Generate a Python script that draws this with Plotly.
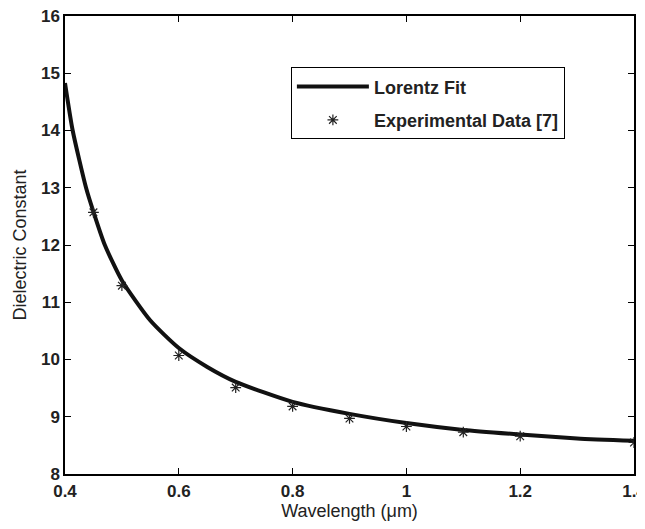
import plotly.graph_objects as go

# Lorentz fit curve
fit_wavelength = [0.4, 0.4135, 0.437, 0.45, 0.47, 0.5, 0.55, 0.6, 0.65, 0.7, 0.8, 0.9, 1.0, 1.1, 1.2, 1.3, 1.4]
fit_eps = [14.83, 14.0, 13.0, 12.58, 12.0, 11.38, 10.68, 10.2, 9.87, 9.61, 9.26, 9.05, 8.89, 8.77, 8.69, 8.62, 8.58]

# Experimental data [7]
exp_wavelength = [0.45, 0.5, 0.6, 0.7, 0.8, 0.9, 1.0, 1.1, 1.2, 1.4]
exp_eps = [12.57, 11.29, 10.07, 9.51, 9.18, 8.97, 8.83, 8.73, 8.66, 8.55]

x_ticks = [0.4, 0.6, 0.8, 1.0, 1.2, 1.4]
x_ticklabels = ["0.4", "0.6", "0.8", "1", "1.2", "1.4"]
y_ticks = [8, 9, 10, 11, 12, 13, 14, 15, 16]

FONT = "Liberation Sans, Arial, sans-serif"

fig = go.Figure()
fig.add_trace(go.Scatter(
    x=fit_wavelength, y=fit_eps, mode="lines", name="Lorentz Fit", legendgroup="a",
    line=dict(color="#111111", width=4, shape="spline", smoothing=0.6),
))
fig.add_trace(go.Scatter(
    x=exp_wavelength, y=exp_eps, mode="markers", name="Experimental Data [7]", legendgroup="b",
    marker=dict(symbol="asterisk-open", size=9, color="#222222",
                line=dict(color="#222222", width=1.2)),
))

axis_common = dict(
    showline=True, linecolor="black", linewidth=1.5, mirror="ticks",
    ticks="inside", ticklen=6, tickcolor="black", showgrid=False, zeroline=False,
    automargin=False, ticklabeloverflow="allow",
    tickfont=dict(family=FONT, size=17, color="#222222", weight="bold"),
)

fig.update_xaxes(range=[0.4, 1.4], tickvals=x_ticks, ticktext=x_ticklabels,
                 ticklabelstandoff=1,
                 title=dict(text="Wavelength (μm)", standoff=2,
                            font=dict(family=FONT, size=18, color="#222222")),
                 **axis_common)
fig.update_yaxes(range=[8, 16], tickvals=y_ticks,
                 title=dict(text="Dielectric Constant", standoff=10,
                            font=dict(family=FONT, size=18, color="#222222")),
                 **axis_common)

# The page body has an 8px default margin, so the figure is sized/offset to compensate.
fig.update_layout(
    width=637, height=521,
    margin=dict(l=57, r=11, t=8, b=55),
    paper_bgcolor="white", plot_bgcolor="white",
    showlegend=True,
    legend=dict(
        x=0.397, y=0.888, xanchor="left", yanchor="top",
        bordercolor="black", borderwidth=1, bgcolor="white",
        font=dict(family=FONT, size=18, color="#222222", weight="bold"),
        itemwidth=72, tracegroupgap=7,
    ),
)

fig.write_html("out.html")
